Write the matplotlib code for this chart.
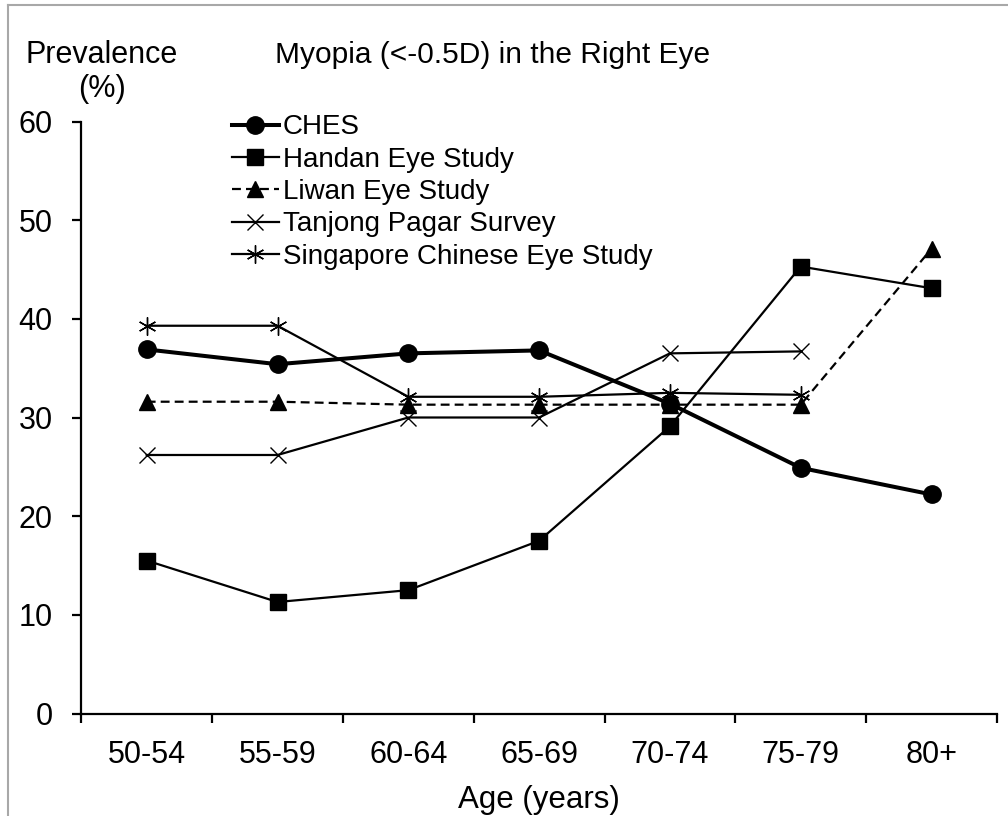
import matplotlib
matplotlib.use("Agg")
import matplotlib.pyplot as plt
from matplotlib.lines import Line2D

plt.rcParams['font.family'] = ['Liberation Sans', 'DejaVu Sans']

age_groups = ["50-54", "55-59", "60-64", "65-69", "70-74", "75-79", "80+"]

ches = [36.9, 35.4, 36.5, 36.8, 31.4, 24.9, 22.2]
handan = [15.5, 11.3, 12.5, 17.5, 29.1, 45.3, 43.1]
liwan = [31.6, 31.6, 31.3, 31.3, 31.3, 31.3, 47.1]
tanjong_pagar = [26.2, 26.2, 30.0, 30.0, 36.5, 36.7]
singapore_chinese = [39.3, 39.3, 32.1, 32.1, 32.5, 32.3]

y_ticks = [0, 10, 20, 30, 40, 50, 60]

W, H = 1008, 816
fig = plt.figure(figsize=(W / 100, H / 100), dpi=100)
ax = fig.add_axes([81.3 / W, 102.5 / H, 915.6 / W, 592 / H])

x_all = list(range(len(age_groups)))

ax.plot(x_all, ches, color='black', lw=2.9, marker='o', ms=12.5,
        label='CHES', zorder=5)
ax.plot(x_all, handan, color='black', lw=1.6, marker='s', ms=12,
        label='Handan Eye Study', zorder=4)
ax.plot(x_all, liwan, color='black', lw=1.6, ls=(0, (4, 2.3)), marker='^',
        ms=12, label='Liwan Eye Study', zorder=4)
ax.plot(x_all[:len(tanjong_pagar)], tanjong_pagar, color='black', lw=1.6,
        marker='x', ms=12, mew=1.0, label='Tanjong Pagar Survey', zorder=3)
ax.plot(x_all[:len(singapore_chinese)], singapore_chinese, color='black',
        lw=1.6, marker=(6, 2, 0), ms=13, mew=1.0,
        label='Singapore Chinese Eye Study', zorder=3)

ax.set_xlim(-0.5, len(age_groups) - 0.5)
ax.set_ylim(0, 60)

ax.set_xticks(x_all)
ax.set_xticklabels(age_groups, fontsize=22)
ax.tick_params(axis='x', which='major', length=0, pad=19)
ax.set_xticks([i - 0.5 for i in range(len(age_groups) + 1)], minor=True)
ax.tick_params(axis='x', which='minor', length=6.5, width=1.6,
               direction='out')

ax.set_yticks(y_ticks)
ax.set_yticklabels([str(v) for v in y_ticks], fontsize=22)
ax.tick_params(axis='y', length=6.5, width=1.6, direction='out', pad=14)

for side in ('top', 'right'):
    ax.spines[side].set_visible(False)
for side in ('left', 'bottom'):
    ax.spines[side].set_linewidth(1.6)

ax.set_xlabel('Age (years)', fontsize=22.5, labelpad=11)

fig.text(101.7 / W, 1 - 63 / H, 'Prevalence', fontsize=22, ha='center',
         va='baseline')
fig.text(102.5 / W, 1 - 97 / H, '(%)', fontsize=22, ha='center',
         va='baseline')
fig.text(275 / W, 1 - 63 / H, 'Myopia (<-0.5D) in the Right Eye',
         fontsize=21.5, ha='left', va='baseline')

leg = ax.legend(loc='upper left', bbox_to_anchor=(0.152, 1.031),
                frameon=False, fontsize=20, handlelength=1.69,
                handletextpad=0.15, labelspacing=0.23, borderaxespad=0)

# grey frame along the top and left edges of the graphic
frame_kw = dict(transform=fig.transFigure, color='#a8a8a8', lw=1.5)
fig.add_artist(Line2D([8 / W, 1.0], [1 - 5 / H, 1 - 5 / H], **frame_kw))
fig.add_artist(Line2D([8 / W, 8 / W], [0.0, 1 - 5 / H], **frame_kw))

fig.savefig('out.png', dpi=100)
